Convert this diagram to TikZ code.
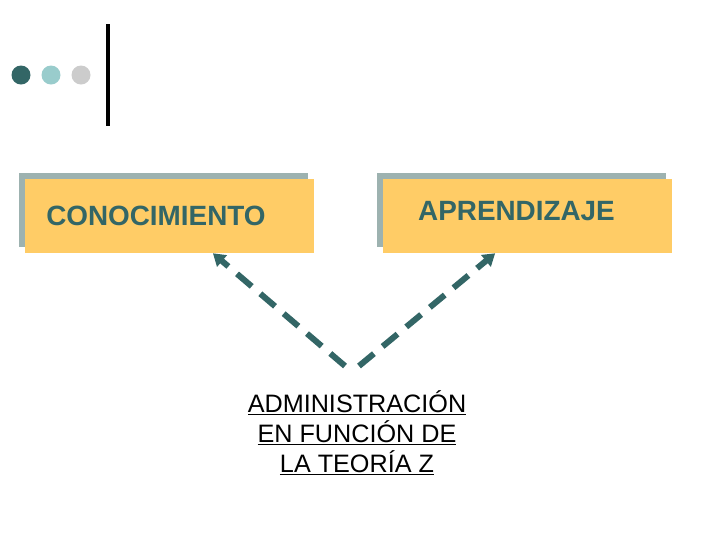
\documentclass[tikz,border=0pt]{standalone}
\usepackage{fontspec}
\setmainfont{Liberation Sans}
\usetikzlibrary{calc, positioning, arrows.meta}
\definecolor{tealdark}{HTML}{336666}
\definecolor{teallight}{HTML}{99CCCC}
\definecolor{dotgrey}{HTML}{CCCCCC}
\definecolor{boxfill}{HTML}{FFCC66}
\definecolor{boxshade}{HTML}{9DB2B0}
\newcommand\cbox[4]{% name, centre x, centre y, colour
  \node[minimum width=216.75pt, minimum height=55.5pt, fill=#4, inner sep=0pt] (#1) at (#2,#3) {};
}

\begin{document}
\begin{tikzpicture}[x=0.75pt, y=-0.75pt,
    boxtext/.style={text=tealdark, font=\fontsize{20.9}{24}\selectfont\bfseries, inner sep=0pt},
    linkarrow/.style={draw=tealdark, line width=4.5pt, dash pattern=on 14.5pt off 8.5pt,
      -{Triangle[length=9pt,width=11pt]}}]
  \useasboundingbox (0,0) rectangle (720,540);
  % bullets and bar
  \fill[tealdark] (21,75) circle (9.5) coordinate (d1);
  \fill[teallight] (51,75) circle (9.5) coordinate (d2);
  \fill[dotgrey] (81,75) circle (9.5) coordinate (d3);
  \draw[line width=3pt] (108,24) -- (108,126);
  % boxes (shadow first)
  \cbox{conocshade}{163.5}{210}{boxshade};
  \cbox{conoc}{169.5}{216}{boxfill};
  \cbox{aprenshade}{521}{210}{boxshade};
  \cbox{apren}{527}{216}{boxfill};
  \node[boxtext, anchor=west] (conoctext) at (46,216) {CONOCIMIENTO};
  \node[boxtext] (aprentext) at (516.5,211) {APRENDIZAJE};
  % bottom text
  \node[align=center, inner sep=0pt, font=\fontsize{18.9}{22.5}\selectfont] (adm) at (357,433)
    {\underline{ADMINISTRACIÓN}\\\underline{EN FUNCIÓN DE}\\\underline{LA TEORÍA Z}};
  \coordinate (tailleft) at (345,366);
  \coordinate (tailright) at (359,366);
  \draw[linkarrow] (tailleft) -- ($(conoc.south west)!0.65!(conoc.south east)$);
  \draw[linkarrow] (tailright) -- ($(apren.south west)!0.39!(apren.south east)$);
\end{tikzpicture}
\end{document}
